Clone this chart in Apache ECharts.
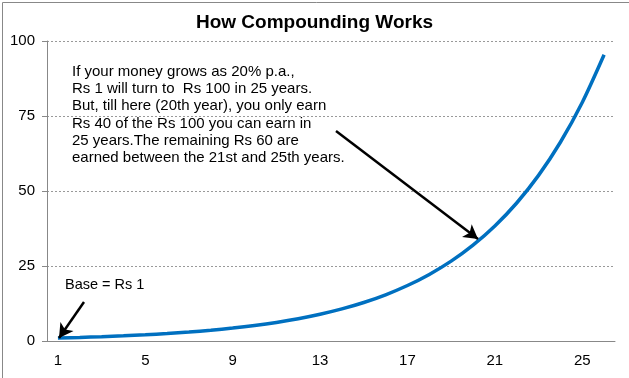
<!DOCTYPE html>
<html>
<head>
<meta charset="utf-8">
<script src="https://cdn.jsdelivr.net/npm/echarts@6/dist/echarts.min.js"></script>
<style>
  html, body { margin: 0; padding: 0; background: #fff; }
  #chart { width: 629px; height: 378px; }
</style>
</head>
<body>
<div id="chart"></div>
<script>
// years 1..26
const years = ['1', '2', '3', '4', '5', '6', '7', '8', '9', '10', '11', '12', '13',
  '14', '15', '16', '17', '18', '19', '20', '21', '22', '23', '24', '25', '26']
// value of Rs 1 growing at 20% p.a.
const values = [1, 1.2, 1.44, 1.73, 2.07, 2.49, 2.99, 3.58, 4.3, 5.16, 6.19, 7.43, 8.92,
  10.7, 12.84, 15.41, 18.49, 22.19, 26.62, 31.95, 38.34, 46.0, 55.21, 66.25, 79.5, 95.4]

const note = [
  'If your money grows as 20% p.a.,',
  'Rs 1 will turn to  Rs 100 in 25 years.',
  'But, till here (20th year), you only earn',
  'Rs 40 of the Rs 100 you can earn in',
  '25 years.The remaining Rs 60 are',
  'earned between the 21st and 25th years.'
]

const font = 'Liberation Sans, Arial, sans-serif'
const chart = echarts.init(document.getElementById('chart'))

chart.setOption({
  animation: false,
  textStyle: { fontFamily: font },
  title: {
    text: 'How Compounding Works',
    left: 'center',
    top: 8,
    textStyle: { fontSize: 19, fontWeight: 'bold', color: '#000', fontFamily: font }
  },
  grid: { left: 47, right: 14, top: 41, bottom: 37 },
  xAxis: {
    type: 'category',
    data: years,
    boundaryGap: true,
    axisLine: { lineStyle: { color: '#888', width: 1 } },
    axisTick: { interval: 3, length: 5, lineStyle: { color: '#888' } },
    axisLabel: { interval: 3, color: '#000', fontSize: 15, margin: 12 },
    splitLine: { show: false }
  },
  yAxis: {
    type: 'value',
    min: 0,
    max: 100,
    interval: 25,
    axisLine: { show: true, lineStyle: { color: '#888', width: 1 } },
    axisTick: { show: true, length: 5, lineStyle: { color: '#888' } },
    axisLabel: { color: '#000', fontSize: 15, margin: 12 },
    splitLine: { lineStyle: { color: '#999', type: [2, 2], width: 1 } }
  },
  series: [
    {
      type: 'line',
      data: values,
      smooth: 0.3,
      showSymbol: false,
      lineStyle: { color: '#0070C0', width: 3.5 },
      itemStyle: { color: '#0070C0' },
      markLine: {
        silent: true,
        symbolSize: [12, 14],
        lineStyle: { color: '#000', width: 2.5, type: 'solid' },
        label: { show: false },
        data: [
          [{ x: 336, y: 131, symbol: 'none' }, { x: 478, y: 239, symbol: 'arrow' }],
          [{ x: 84, y: 302, symbol: 'none' }, { x: 59, y: 338, symbol: 'arrow' }]
        ]
      }
    }
  ],
  graphic: [
    {
      type: 'rect',
      left: 0,
      top: 0,
      shape: { width: 628, height: 377 },
      style: { fill: 'none', stroke: '#888', lineWidth: 1 },
      silent: true
    },
    {
      type: 'text',
      left: 72,
      top: 63,
      style: {
        text: note.join('\n'),
        font: '15px ' + font,
        fill: '#000',
        lineHeight: 17.3
      }
    },
    {
      type: 'text',
      left: 65,
      top: 277,
      style: { text: 'Base = Rs 1', font: '14.5px ' + font, fill: '#000' }
    }
  ]
})
</script>
</body>
</html>
